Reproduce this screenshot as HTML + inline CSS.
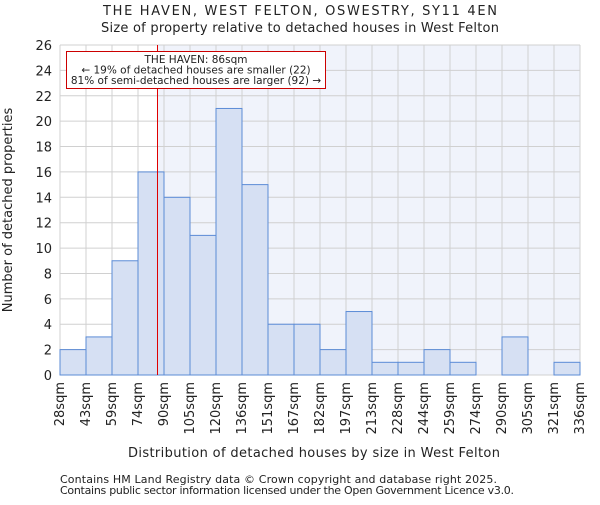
<!DOCTYPE html>
<html><head><meta charset="utf-8"><style>
body{margin:0;background:#fff;}
svg text{font-family:"DejaVu Sans","Liberation Sans",sans-serif;fill:#222;}
</style></head><body>
<svg width="600" height="500" xmlns="http://www.w3.org/2000/svg" id="chart">
<text x="300" y="15" text-anchor="middle" font-size="13" textLength="394">THE HAVEN, WEST FELTON, OSWESTRY, SY11 4EN</text>
<text x="300" y="32" text-anchor="middle" font-size="13" textLength="398">Size of property relative to detached houses in West Felton</text>
<g id="plot"></g>
<text x="314" y="457" text-anchor="middle" font-size="13" textLength="372">Distribution of detached houses by size in West Felton</text>
<text transform="translate(12,210) rotate(-90)" text-anchor="middle" font-size="13">Number of detached properties</text>
<text x="60" y="483" font-size="11" fill="#444" textLength="437">Contains HM Land Registry data © Crown copyright and database right 2025.</text>
<text x="60" y="494" font-size="11" fill="#444" textLength="454">Contains public sector information licensed under the Open Government Licence v3.0.</text>
</svg>
<script>
const binEdges=[28,43,59,74,90,105,120,136,151,167,182,197,213,228,244,259,274,290,305,321,336];
const counts=[2,3,9,16,14,11,21,15,4,4,2,5,1,1,2,1,0,3,0,1];
const yTicks=[0,2,4,6,8,10,12,14,16,18,20,22,24,26];
const propertySize=86;
const X0=60,X1=580,Y0=375,Y1=45;
const nb=counts.length;
function xIdx(i){return X0+i*(X1-X0)/nb;}
function xVal(v){
  for(let i=0;i<binEdges.length-1;i++){if(v<=binEdges[i+1]){return xIdx(i)+(v-binEdges[i])/(binEdges[i+1]-binEdges[i])*(X1-X0)/nb;}}
  return X1;}
function y(v){return Y0-v*(Y0-Y1)/26;}
const NS="http://www.w3.org/2000/svg";
const g=document.getElementById('plot');
function mk(t,a){const e=document.createElementNS(NS,t);for(const k in a)e.setAttribute(k,a[k]);g.appendChild(e);return e;}
const px=xVal(propertySize);
let bg=mk('rect',{x:X0,y:Y1,width:X1-X0,height:Y0-Y1,fill:'#fff'});


let sh=mk('rect',{x:px,y:Y1,width:X1-px,height:Y0-Y1,fill:'#f0f3fb'});


yTicks.forEach(t=>{
  let l=mk('line',{x1:X0,x2:X1,y1:y(t),y2:y(t),stroke:'#d0d0d0','stroke-width':1});
  
  
  let tx=mk('text',{x:X0-8,y:y(t)+5,'text-anchor':'end','font-size':13});
  tx.textContent=t;
  
  
});
binEdges.forEach((b,i)=>{
  let l=mk('line',{x1:xIdx(i),x2:xIdx(i),y1:Y1,y2:Y0,stroke:'#d0d0d0','stroke-width':1});
  
  
  const xx=xIdx(i)+4;
  let tx=mk('text',{transform:`translate(${xx},382) rotate(-90)`,'text-anchor':'end','font-size':13});
  tx.textContent=b+'sqm';
  
  
});
counts.forEach((c,i)=>{
  if(c<=0)return;
  let r=mk('rect',{x:xIdx(i),y:y(c),width:(X1-X0)/nb,height:Y0-y(c),fill:'#d6e0f3',stroke:'#5b8bd6','stroke-width':1});
  
  
});
let ml=mk('line',{x1:px,x2:px,y1:Y1,y2:Y0,stroke:'#e00000','stroke-width':1});


let box=mk('rect',{x:66.5,y:51.5,width:259,height:37,fill:'#fff',stroke:'#cc0000','stroke-width':1});


['THE HAVEN: 86sqm','← 19% of detached houses are smaller (22)','81% of semi-detached houses are larger (92) →'].forEach((s,i)=>{
  let t=mk('text',{x:196,y:63+i*10.5,'text-anchor':'middle','font-size':10.5});
  t.textContent=s;
  
  
});
</script>
</body></html>
